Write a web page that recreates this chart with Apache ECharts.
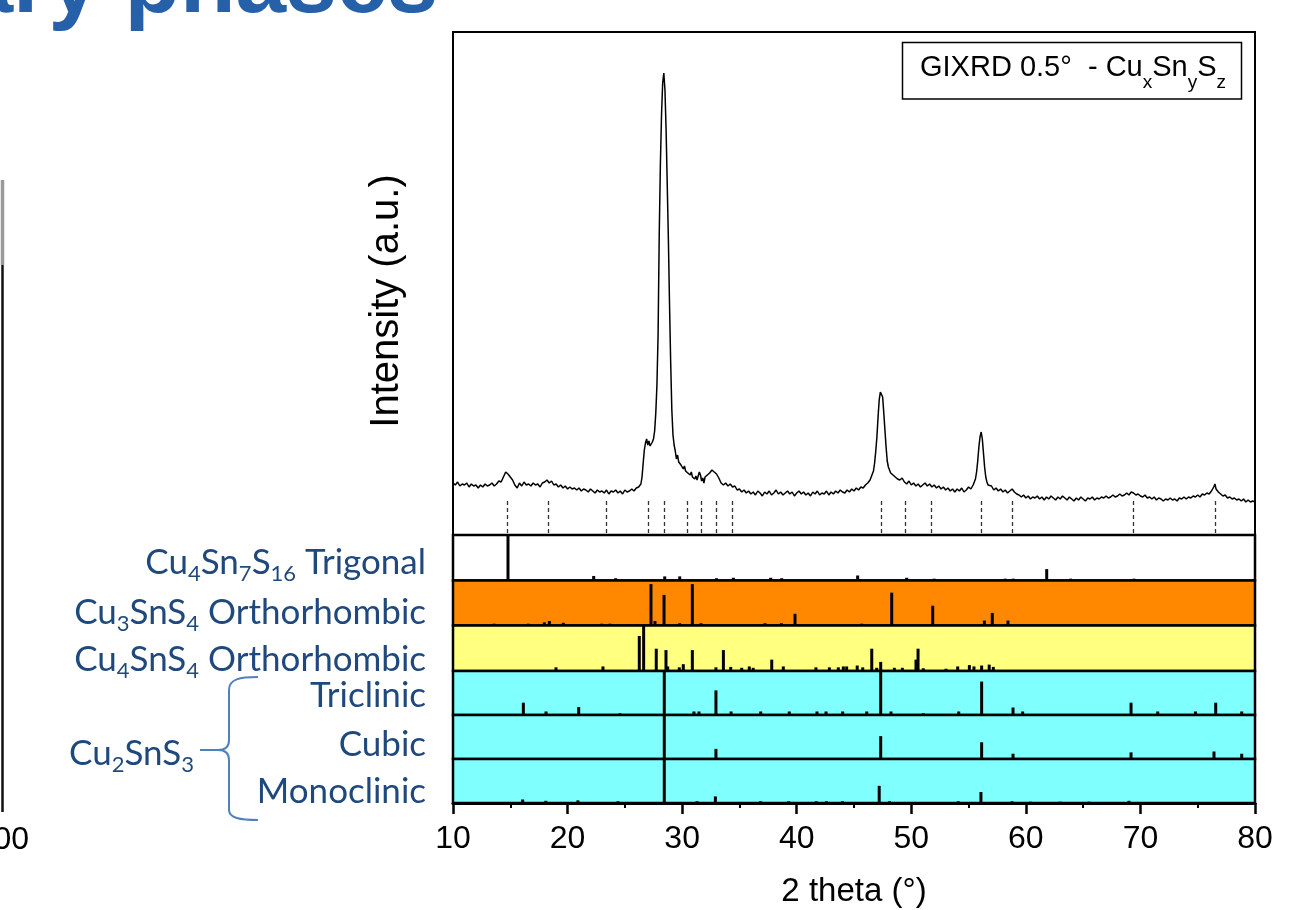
<!DOCTYPE html>
<html><head><meta charset="utf-8">
<script src="https://cdn.jsdelivr.net/npm/echarts@6/dist/echarts.min.js"></script>
<style>html,body{margin:0;padding:0;background:#fff}#c{width:1312px;height:910px}</style>
</head><body><div id="c"></div>
<script>
// ---------- DATA ----------
const xTickValues = [10, 20, 30, 40, 50, 60, 70, 80];
// measured GIXRD pattern: [2theta, intensity (a.u.)]
const xrdPattern = [
[10.0,52],[10.2,50],[10.4,53],[10.6,49],[10.8,51],[11.0,50],[11.2,52],[11.4,48],[11.6,51],[11.8,49],
[12.0,50],[12.2,47],[12.4,50],[12.6,48],[12.8,51],[13.0,49],[13.2,50],[13.4,52],[13.6,49],[13.8,51],
[14.0,54],[14.2,53],[14.4,58],[14.6,63],[14.8,61],[15.0,58],[15.2,55],[15.4,50],[15.6,47],[15.8,52],
[16.0,49],[16.2,53],[16.4,50],[16.6,51],[16.8,49],[17.0,52],[17.2,50],[17.4,51],[17.6,48],[17.8,52],
[18.0,53],[18.2,55],[18.4,52],[18.6,54],[18.8,50],[19.0,51],[19.2,48],[19.4,50],[19.6,47],[19.8,49],
[20.0,46],[20.2,48],[20.4,46],[20.6,47],[20.8,45],[21.0,47],[21.2,44],[21.4,46],[21.6,45],[21.8,43],
[22.0,46],[22.2,44],[22.4,42],[22.6,45],[22.8,43],[23.0,44],[23.2,42],[23.4,45],[23.6,41],[23.8,44],
[24.0,43],[24.2,45],[24.4,42],[24.6,44],[24.8,41],[25.0,45],[25.2,43],[25.4,44],[25.6,46],[25.8,44],
[26.0,47],[26.2,48],[26.3,49],[26.4,51],[26.5,58],[26.6,72],[26.7,85],[26.8,92],[26.9,96],[27.0,90],
[27.1,94],[27.2,89],[27.3,91],[27.4,93],[27.5,96],[27.6,104],[27.7,122],[27.8,150],[27.9,200],[28.0,300],
[28.1,370],[28.2,420],[28.3,452],[28.4,462],[28.5,445],[28.6,405],[28.7,350],[28.8,295],[28.9,230],[29.0,172],
[29.1,125],[29.2,100],[29.3,90],[29.4,84],[29.5,76],[29.6,80],[29.7,73],[29.8,75],[29.9,70],[30.0,72],
[30.1,66],[30.2,69],[30.3,64],[30.4,66],[30.5,62],[30.6,64],[30.7,60],[30.8,63],[30.9,58],[31.0,60],
[31.1,56],[31.2,59],[31.3,55],[31.4,57],[31.5,63],[31.6,60],[31.7,54],[31.8,57],[31.9,52],[32.0,58],
[32.1,56],[32.2,60],[32.3,58],[32.4,62],[32.5,60],[32.6,65],[32.7,66],[32.8,63],[32.9,65],[33.0,61],
[33.1,62],[33.2,57],[33.3,55],[33.4,52],[33.5,54],[33.6,50],[33.8,52],[34.0,49],[34.2,51],[34.4,48],
[34.6,49],[34.8,45],[35.0,46],[35.2,43],[35.4,45],[35.6,42],[35.8,44],[36.0,41],[36.2,43],[36.4,40],
[36.6,44],[36.8,42],[37.0,39],[37.2,43],[37.4,41],[37.6,44],[37.8,40],[38.0,42],[38.2,45],[38.4,41],
[38.6,43],[38.8,40],[39.0,42],[39.2,44],[39.4,41],[39.6,43],[39.8,39],[40.0,42],[40.2,44],[40.4,41],
[40.6,43],[40.8,40],[41.0,42],[41.2,39],[41.4,43],[41.6,41],[41.8,44],[42.0,40],[42.2,42],[42.4,41],
[42.6,44],[42.8,40],[43.0,43],[43.2,41],[43.4,44],[43.6,42],[43.8,45],[44.0,43],[44.2,42],[44.4,45],
[44.6,43],[44.8,46],[45.0,44],[45.2,47],[45.4,45],[45.6,48],[45.8,47],[46.0,50],[46.2,52],[46.4,55],
[46.5,58],[46.6,60],[46.7,64],[46.8,72],[46.9,84],[47.0,98],[47.1,118],[47.2,135],[47.3,143],[47.4,145],
[47.5,138],[47.6,122],[47.7,105],[47.8,88],[47.9,74],[48.0,68],[48.1,66],[48.2,62],[48.3,64],[48.4,60],
[48.6,58],[48.8,56],[49.0,55],[49.2,57],[49.4,53],[49.6,51],[49.8,54],[50.0,50],[50.2,52],[50.4,49],
[50.6,51],[50.8,48],[51.0,50],[51.2,52],[51.4,49],[51.6,51],[51.8,48],[52.0,50],[52.2,47],[52.4,49],
[52.6,46],[52.8,48],[53.0,45],[53.2,47],[53.4,44],[53.6,46],[53.8,43],[54.0,46],[54.2,44],[54.4,47],
[54.6,43],[54.8,45],[55.0,48],[55.2,46],[55.4,50],[55.6,56],[55.7,63],[55.8,74],[55.9,88],[56.0,98],
[56.1,103],[56.2,96],[56.3,82],[56.4,68],[56.5,58],[56.6,53],[56.7,50],[56.8,48],[57.0,49],[57.2,45],
[57.4,47],[57.6,44],[57.8,46],[58.0,43],[58.2,45],[58.4,42],[58.6,44],[58.8,46],[59.0,43],[59.2,41],
[59.4,40],[59.6,38],[59.8,40],[60.0,37],[60.2,39],[60.4,36],[60.6,38],[60.8,37],[61.0,39],[61.2,36],
[61.4,38],[61.6,35],[61.8,38],[62.0,36],[62.2,39],[62.4,37],[62.6,35],[62.8,38],[63.0,36],[63.2,39],
[63.4,37],[63.6,35],[63.8,38],[64.0,36],[64.2,34],[64.4,37],[64.6,35],[64.8,38],[65.0,36],[65.2,34],
[65.4,37],[65.6,36],[65.8,38],[66.0,35],[66.2,37],[66.4,36],[66.6,38],[66.8,37],[67.0,39],[67.2,37],
[67.4,38],[67.6,40],[67.8,38],[68.0,39],[68.2,41],[68.4,39],[68.6,40],[68.8,42],[69.0,40],[69.2,43],
[69.4,42],[69.6,40],[69.8,41],[70.0,39],[70.2,38],[70.4,40],[70.6,37],[70.8,38],[71.0,36],[71.2,38],
[71.4,35],[71.6,37],[71.8,36],[72.0,34],[72.2,36],[72.4,35],[72.6,37],[72.8,35],[73.0,36],[73.2,34],
[73.4,37],[73.6,36],[73.8,38],[74.0,36],[74.2,38],[74.4,37],[74.6,39],[74.8,38],[75.0,40],[75.2,38],
[75.4,41],[75.6,40],[75.8,42],[76.0,41],[76.2,44],[76.4,48],[76.5,51],[76.6,46],[76.8,43],[77.0,41],
[77.2,39],[77.4,40],[77.6,37],[77.8,38],[78.0,36],[78.2,37],[78.4,35],[78.6,36],[78.8,34],[79.0,36],
[79.2,33],[79.4,35],[79.6,33],[79.8,34],[80.0,33]
];
// dashed markers of identified reflections (2theta)
const markerPositions = [14.74, 18.32, 23.41, 27.0, 28.45, 30.48, 31.64, 33.0, 34.4, 47.41, 49.44, 51.77, 56.07, 58.8, 69.37, 76.55];

// reference patterns: [2theta, relative intensity]
const trigonalSticks = [[14.8,1.0],[22.28,0.1],[24.2,0.05],[28.48,0.09],[29.79,0.09],[33.0,0.05],[34.47,0.06],[37.73,0.06],[38.69,0.05],[45.32,0.11],[49.6,0.06],[52.0,0.04],[58.2,0.04],[58.9,0.04],[61.82,0.25],[63.9,0.04],[69.44,0.04]];
const cu3SnS4Sticks = [[13.58,0.04],[16.57,0.04],[17.97,0.07],[18.41,0.1],[19.63,0.06],[22.98,0.04],[23.7,0.04],[27.28,0.92],[27.63,0.1],[28.42,0.68],[29.79,0.05],[30.89,0.92],[31.65,0.05],[37.23,0.05],[38.66,0.05],[39.85,0.26],[45.67,0.04],[48.29,0.73],[51.87,0.44],[56.38,0.11],[57.07,0.28],[58.44,0.11]];
const cu4SnS4Sticks = [[18.99,0.08],[23.09,0.1],[26.26,0.77],[26.64,1.0],[27.74,0.49],[28.59,0.46],[28.74,0.1],[29.75,0.08],[30.1,0.15],[30.89,0.46],[32.95,0.08],[33.6,0.46],[34.24,0.09],[35.2,0.07],[35.86,0.1],[36.2,0.07],[37.82,0.25],[38.83,0.1],[41.68,0.08],[42.85,0.08],[43.63,0.08],[44.07,0.1],[44.36,0.1],[45.28,0.12],[45.76,0.08],[46.55,0.49],[46.98,0.07],[47.33,0.2],[48.52,0.07],[49.22,0.07],[50.41,0.25],[50.59,0.49],[51.05,0.06],[53.03,0.05],[54.05,0.1],[55.07,0.13],[55.47,0.1],[56.14,0.12],[56.8,0.14],[57.16,0.09]];
const triclinicSticks = [[16.14,0.28],[18.12,0.08],[20.97,0.18],[24.58,0.04],[28.44,1.0],[31.03,0.08],[31.47,0.08],[32.95,0.56],[34.27,0.08],[36.86,0.08],[39.35,0.08],[41.77,0.08],[42.56,0.08],[44.01,0.08],[46.11,0.08],[47.33,1.0],[48.23,0.08],[51.05,0.04],[54.14,0.08],[56.14,0.76],[58.88,0.17],[59.72,0.08],[69.18,0.28],[71.51,0.08],[74.8,0.08],[76.57,0.28],[78.84,0.08]];
const cubicSticks = [[28.44,1.0],[32.95,0.23],[47.33,0.52],[56.14,0.38],[58.88,0.12],[69.18,0.15],[76.42,0.17],[78.84,0.12]];
const monoclinicSticks = [[16.08,0.08],[18.1,0.05],[20.9,0.06],[24.4,0.04],[28.44,1.0],[31.3,0.04],[32.9,0.15],[36.85,0.04],[39.3,0.04],[41.7,0.04],[42.6,0.04],[44.0,0.04],[47.2,0.39],[48.1,0.04],[54.1,0.04],[56.08,0.25],[58.8,0.04],[60.4,0.03],[63.0,0.03],[65.5,0.03],[69.0,0.05]];

const panelNames = ['{m|Cu}{s|4}{m|Sn}{s|7}{m|S}{s|16}{m| Trigonal}', '{m|Cu}{s|3}{m|SnS}{s|4}{m| Orthorhombic}', '{m|Cu}{s|4}{m|SnS}{s|4}{m| Orthorhombic}', '{m|Triclinic}', '{m|Cubic}', '{m|Monoclinic}'];
const panelSticks = [trigonalSticks, cu3SnS4Sticks, cu4SnS4Sticks, triclinicSticks, cubicSticks, monoclinicSticks];

// ---------- LAYOUT / STYLE ----------
const panelColors = ['#ffffff', '#ff8800', '#ffff80', '#80ffff', '#80ffff', '#80ffff'];
const plotLeft = 453, plotWidth = 802;
const panelEdges = [535, 580.5, 625.5, 671, 715, 759, 803];
const labelCenters = [563, 613, 660, 696, 745, 792];
const labelColor = '#1f497d';

const grids = [{left: plotLeft, top: 32, width: plotWidth, height: 503, show: true, backgroundColor: '#fff', borderColor: '#000', borderWidth: 2}];
const xAxes = [{gridIndex: 0, type: 'value', min: 10, max: 80, interval: 10, show: false}];
const yAxes = [{gridIndex: 0, type: 'value', min: 0, max: 503, show: false}];
const series = [{
  type: 'line', xAxisIndex: 0, yAxisIndex: 0, data: xrdPattern, showSymbol: false, symbol: 'none',
  lineStyle: {color: '#000', width: 1.5}, animation: false, silent: true,
  markLine: {silent: true, symbol: ['none', 'none'], label: {show: false}, animation: false,
    lineStyle: {color: '#333', width: 1.3, type: [4, 3]},
    data: markerPositions.map(t => [{coord: [t, 2]}, {coord: [t, 35]}])}
}];
panelSticks.forEach((sticks, i) => {
  const gi = i + 1, last = i === panelSticks.length - 1;
  grids.push({left: plotLeft, top: panelEdges[i], width: plotWidth, height: panelEdges[i + 1] - panelEdges[i],
    show: true, backgroundColor: panelColors[i], borderColor: '#000', borderWidth: 2.5});
  xAxes.push(last ? {
    gridIndex: gi, type: 'value', min: 10, max: 80, interval: 10,
    axisLine: {show: true, onZero: false, lineStyle: {color: '#000', width: 3}},
    axisTick: {show: true, length: 11, lineStyle: {color: '#000', width: 2.5}},
    minorTick: {show: true, splitNumber: 2, length: 5, lineStyle: {color: '#000', width: 2}},
    splitLine: {show: false},
    axisLabel: {color: '#000', fontSize: 32, fontFamily: '"Liberation Sans", Arial, sans-serif', margin: 20,
      formatter: v => xTickValues.includes(v) ? String(v) : ''},
    name: '2 theta (°)', nameLocation: 'middle', nameGap: 72,
    nameTextStyle: {color: '#000', fontSize: 33, fontFamily: '"Liberation Sans", Arial, sans-serif'}
  } : {gridIndex: gi, type: 'value', min: 10, max: 80, interval: 10, show: false});
  yAxes.push({gridIndex: gi, type: 'value', min: 0, max: 1, show: false});
  series.push({
    type: 'custom', xAxisIndex: gi, yAxisIndex: gi, data: sticks, animation: false, silent: true,
    encode: {x: 0, y: 1},
    renderItem: (params, api) => {
      const p0 = api.coord([api.value(0), 0]);
      const p1 = api.coord([api.value(0), api.value(1)]);
      return {type: 'rect', shape: {x: p0[0] - 1.5, y: p1[1], width: 3, height: p0[1] - p1[1]}, style: {fill: '#000'}};
    }
  });
});

const richLabel = {
  m: {fontSize: 35, fontFamily: 'Lato, "Noto Sans", sans-serif', fill: labelColor, lineHeight: 44},
  s: {fontSize: 22, fontFamily: 'Lato, "Noto Sans", sans-serif', fill: labelColor, lineHeight: 23, verticalAlign: 'bottom'}
};
const braceStyle = {stroke: '#4f81bd', lineWidth: 2, fill: null};
const graphics = [
  {type: 'text', x: 438, y: -13, style: {text: 'Secondary phases', font: 'bold 91px "Liberation Sans", Arial, sans-serif', fill: '#2660a9', align: 'right', verticalAlign: 'middle'}},
  {type: 'line', shape: {x1: 2.5, y1: 180, x2: 2.5, y2: 265}, style: {stroke: '#999', lineWidth: 3.5}},
  {type: 'line', shape: {x1: 2.5, y1: 265, x2: 2.5, y2: 812}, style: {stroke: '#111', lineWidth: 2.5}},
  {type: 'text', x: 29, y: 840, style: {text: '00', font: '32px "Liberation Sans", Arial, sans-serif', fill: '#000', align: 'right', verticalAlign: 'middle'}},
  {type: 'text', x: 387, y: 301, rotation: Math.PI / 2, style: {text: 'Intensity (a.u.)', font: '40px "Liberation Sans", Arial, sans-serif', fill: '#000', align: 'center', verticalAlign: 'middle'}},
  {type: 'rect', shape: {x: 902.5, y: 42.5, width: 339, height: 56.5}, style: {fill: '#fff', stroke: '#000', lineWidth: 1.5}, z: 10},
  {type: 'text', x: 920, y: 68, z: 11, style: {text: '{m|GIXRD 0.5°  - Cu}{s|x}{m|Sn}{s|y}{m|S}{s|z}', align: 'left', verticalAlign: 'middle',
    rich: {m: {fontSize: 29, fontFamily: '"Liberation Sans", Arial, sans-serif', fill: '#000', lineHeight: 48},
           s: {fontSize: 19, fontFamily: '"Liberation Sans", Arial, sans-serif', fill: '#000', lineHeight: 20, verticalAlign: 'bottom'}}}},
  {type: 'bezierCurve', shape: {x1: 258, y1: 677, cpx1: 240, cpy1: 677, cpx2: 229, cpy2: 679, x2: 229, y2: 690}, style: braceStyle},
  {type: 'line', shape: {x1: 229, y1: 690, x2: 229, y2: 740}, style: braceStyle},
  {type: 'bezierCurve', shape: {x1: 229, y1: 740, cpx1: 229, cpy1: 747, cpx2: 225, cpy2: 750, x2: 218, y2: 750}, style: braceStyle},
  {type: 'line', shape: {x1: 218, y1: 750, x2: 200, y2: 750}, style: braceStyle},
  {type: 'bezierCurve', shape: {x1: 218, y1: 750, cpx1: 225, cpy1: 750, cpx2: 229, cpy2: 753, x2: 229, y2: 760}, style: braceStyle},
  {type: 'line', shape: {x1: 229, y1: 760, x2: 229, y2: 810}, style: braceStyle},
  {type: 'bezierCurve', shape: {x1: 229, y1: 810, cpx1: 229, cpy1: 818, cpx2: 240, cpy2: 820, x2: 258, y2: 820}, style: braceStyle},
  {type: 'text', x: 194, y: 754, style: {text: '{m|Cu}{s|2}{m|SnS}{s|3}', align: 'right', verticalAlign: 'middle', rich: richLabel}}
];
panelNames.forEach((n, i) => {
  graphics.push({type: 'text', x: 426, y: labelCenters[i], style: {text: n, align: 'right', verticalAlign: 'middle', rich: richLabel}});
});

const chart = echarts.init(document.getElementById('c'), null, {renderer: 'canvas'});
chart.setOption({
  animation: false,
  backgroundColor: '#fff',
  grid: grids, xAxis: xAxes, yAxis: yAxes, series: series,
  graphic: {elements: graphics}
});
</script></body></html>
